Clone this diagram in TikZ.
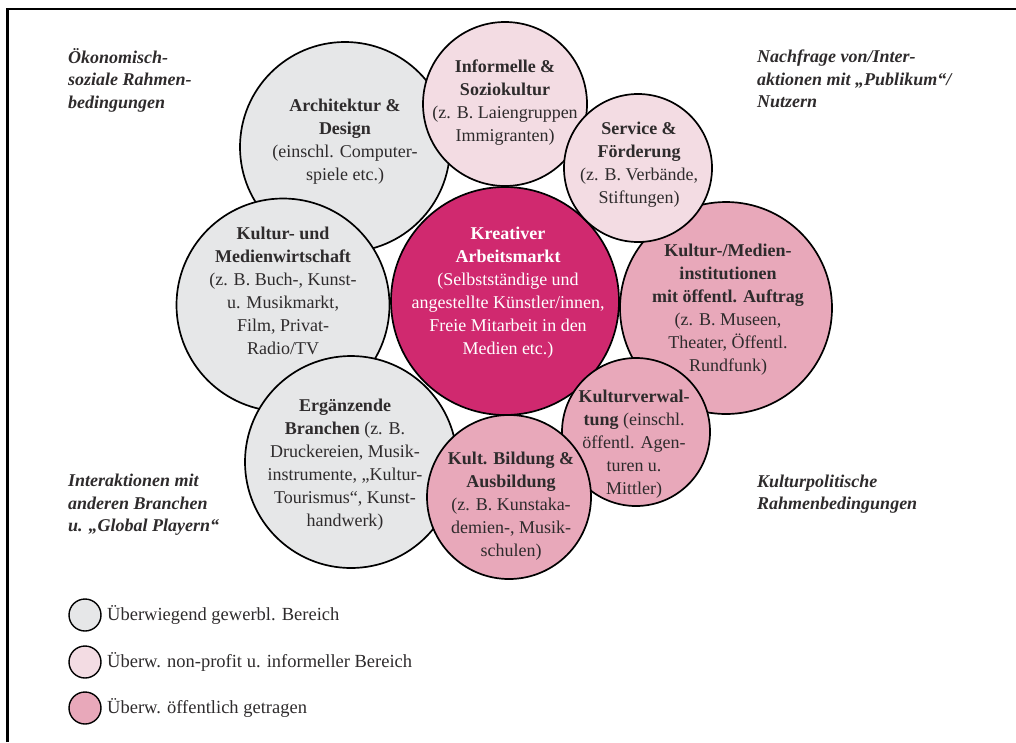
\documentclass[tikz,border=0pt]{standalone}
\usepackage{fontspec}
\setmainfont{Liberation Serif}
\definecolor{cgray}{HTML}{E6E7E8}
\definecolor{clight}{HTML}{F3DCE3}
\definecolor{cmid}{HTML}{E8A8BA}
\definecolor{cmag}{HTML}{D0296F}
\definecolor{textgray}{HTML}{2E2B2C}
\begin{document}
\begin{tikzpicture}[x=1pt,y=-1pt,
  bub/.style={circle, draw=black, line width=1.7pt, inner sep=0pt},
  txt/.style={align=center, text=textgray, font=\fontsize{18}{23}\selectfont, inner sep=0pt},
  lab/.style={align=left, anchor=west, text=textgray, font=\fontsize{18}{22.5}\selectfont\bfseries\itshape, inner sep=0pt},
  legt/.style={anchor=west, text=textgray, font=\fontsize{18.5}{23}\selectfont, inner sep=0pt}
]
\useasboundingbox (0,0) rectangle (1016,742);
% frame
\coordinate (fbl) at (7.5,742);
\coordinate (ftl) at (7.5,9);
\coordinate (ftr) at (1016,9);
\draw[line width=2.5pt] (fbl) -- (ftl) -- (ftr);

% circles (drawing order = layering)
\node[bub, fill=cgray, minimum size=210pt] (arch) at (345,147) {};
\node[bub, fill=cgray, minimum size=213pt] (kmw) at (283,305) {};
\node[bub, fill=cmag, minimum size=228pt] (krea) at (505,301) {};
\node[bub, fill=clight, minimum size=164pt] (inf) at (505,104) {};
\node[bub, fill=cmid, minimum size=212pt] (med) at (726,308) {};
\node[bub, fill=clight, minimum size=148pt] (serv) at (638,168) {};
\node[bub, fill=cgray, minimum size=212pt] (erg) at (351,462) {};
\node[bub, fill=cmid, minimum size=148pt] (kv) at (636,432) {};
\node[bub, fill=cmid, minimum size=164pt] (bild) at (509,497) {};

% circle texts
\node[txt] (archt) at (345,142) {\textbf{Architektur \&}\\\textbf{Design}\\(einschl. Computer-\\spiele etc.)};
\node[txt] (inft) at (505,103) {\textbf{Informelle \&}\\\textbf{Soziokultur}\\(z. B. Laiengruppen\\Immigranten)};
\node[txt] (servt) at (639,165) {\textbf{Service \&}\\\textbf{Förderung}\\(z. B. Verbände,\\Stiftungen)};
\node[txt, text=white] (kreat) at (508,293) {\textbf{Kreativer}\\\textbf{Arbeitsmarkt}\\(Selbstständige und\\angestellte Künstler/innen,\\Freie Mitarbeit in den\\Medien etc.)};
\node[txt] (kmwt) at (283,291) {\textbf{Kultur- und}\\\textbf{Medienwirtschaft}\\(z. B. Buch-, Kunst-\\u. Musikmarkt,\\Film, Privat-\\Radio/TV};
\node[txt] (medt) at (728,310) {\textbf{Kultur-/Medien-}\\\textbf{institutionen}\\\textbf{mit öffentl. Auftrag}\\(z. B. Museen,\\Theater, Öffentl.\\Rundfunk)};
\node[txt] (ergt) at (345,465) {\textbf{Ergänzende}\\\textbf{Branchen} (z. B.\\Druckereien, Musik-\\instrumente, „Kultur-\\Tourismus“, Kunst-\\handwerk)};
\node[txt] (kvt) at (634,444) {\textbf{Kulturverwal-}\\\textbf{tung} (einschl.\\öffentl. Agen-\\turen u.\\Mittler)};
\node[txt] (bildt) at (511,506) {\textbf{Kult. Bildung \&}\\\textbf{Ausbildung}\\(z. B. Kunstaka-\\demien-, Musik-\\schulen)};

% corner labels
\node[lab] (ltl) at (68,80) {Ökonomisch-\\soziale Rahmen-\\bedingungen};
\node[lab] (ltr) at (757,79) {Nachfrage von/Inter-\\aktionen mit „Publikum“/\\Nutzern};
\node[lab] (lbl) at (68,505) {Interaktionen mit\\anderen Branchen\\u. „Global Playern“};
\node[lab] (lbr) at (757,494) {Kulturpolitische\\Rahmenbedingungen};

% legend
\node[bub, line width=1.4pt, fill=cgray, minimum size=32pt] (lg1) at (85,615) {};
\node[bub, line width=1.4pt, fill=clight, minimum size=32pt] (lg2) at (85,662) {};
\node[bub, line width=1.4pt, fill=cmid, minimum size=32pt] (lg3) at (85,708) {};
\node[legt] (lg1t) at (107,615) {Überwiegend gewerbl. Bereich};
\node[legt] (lg2t) at (107,662) {Überw. non-profit u. informeller Bereich};
\node[legt] (lg3t) at (107,708) {Überw. öffentlich getragen};
\end{tikzpicture}
\end{document}
